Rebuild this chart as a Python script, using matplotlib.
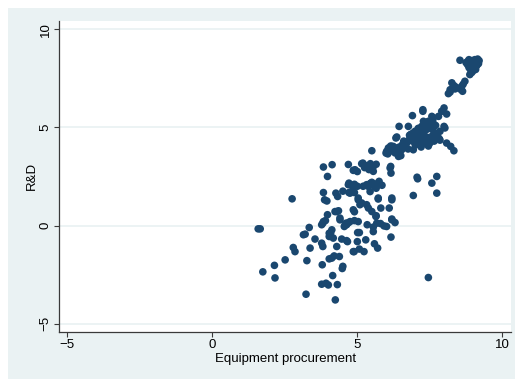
import matplotlib
matplotlib.use("Agg")
import matplotlib.pyplot as plt
from matplotlib.patches import Rectangle

# Equipment procurement (x) vs R&D (y)
top_x = [8.54, 8.75, 8.85, 8.95, 9.05, 9.15, 9.20, 8.80, 8.90, 9.00, 9.10, 8.85, 8.95, 9.05, 9.12,
         8.90, 9.00, 8.95, 8.88, 8.80, 9.18, 9.08]
top_y = [8.42, 8.30, 8.45, 8.40, 8.45, 8.48, 8.40, 8.20, 8.25, 8.20, 8.30, 8.05, 8.10, 8.05, 8.15,
         7.95, 7.90, 7.80, 7.69, 8.35, 8.25, 7.95]

second_x = [8.26, 8.33, 8.71, 8.60, 8.20, 8.14, 8.37, 8.63, 8.30, 8.65, 8.20, 8.40, 8.55]
second_y = [7.27, 7.13, 7.35, 7.09, 6.92, 6.72, 6.96, 6.84, 7.00, 7.20, 6.80, 7.05, 6.95]

band_hi_x = [7.99, 7.91, 8.08, 7.80, 7.26, 7.26, 6.90, 7.62, 7.45, 7.28, 6.76, 6.44, 8.02, 7.50,
             7.16, 6.93, 6.85, 6.33, 6.19, 7.80, 7.85, 8.08, 8.22, 8.33, 7.57, 7.37, 7.22, 7.99,
             7.85, 6.99, 6.36, 6.93, 7.39, 7.83,
             7.00, 7.10, 7.20, 7.30, 7.40, 7.50, 7.10, 7.30, 7.50, 7.60, 7.70, 7.20, 6.80, 6.90,
             7.00, 7.20, 6.70, 6.60, 7.60, 7.70, 7.40, 7.50, 7.30, 7.60, 7.10, 6.80, 7.45, 7.65,
             6.55, 6.45]
band_hi_y = [5.99, 5.82, 5.68, 5.56, 5.82, 5.90, 5.60, 5.48, 5.31, 5.31, 5.05, 5.05, 4.97, 4.97,
             4.88, 4.72, 4.65, 4.46, 4.03, 4.46, 4.35, 4.20, 4.03, 3.81, 5.56, 5.22, 5.05, 5.05,
             4.80, 4.80, 4.51, 4.54, 4.20, 4.41,
             4.60, 4.50, 4.40, 4.60, 4.50, 4.40, 4.30, 4.20, 4.20, 4.60, 4.70, 4.70, 4.40, 4.30,
             4.10, 4.00, 4.20, 4.30, 4.90, 5.10, 4.90, 5.20, 5.00, 5.30, 4.95, 4.60, 4.05, 4.30,
             4.10, 4.00]

mid_x = [5.50, 6.01, 6.05, 6.24, 6.35, 6.59, 6.50, 6.65, 6.50, 6.93, 5.99, 6.07, 6.15, 6.53,
         6.42, 6.20, 6.30, 6.40, 6.75,
         3.83, 3.97, 4.13, 4.69, 4.92, 4.86, 5.00, 5.19, 5.30, 5.45, 5.55, 5.65, 5.44, 5.55,
         5.40, 6.15, 6.16, 6.13, 5.15, 5.25,
         7.08, 7.06, 7.74, 7.57,
         4.71, 4.80, 4.90, 5.00, 5.32, 5.42, 5.50, 5.60, 5.70, 5.75, 5.85, 5.65, 4.69, 4.85,
         5.20, 5.38, 5.45]
mid_y = [3.81, 3.78, 3.65, 4.03, 3.95, 4.20, 3.95, 4.05, 3.56, 3.86, 3.69, 3.95, 4.05, 3.86,
         3.52, 3.80, 3.70, 3.85, 3.90,
         2.98, 2.50, 3.10, 3.11, 2.84, 2.81, 2.75, 3.18, 3.05, 3.15, 3.00, 3.12, 2.93, 2.76,
         2.85, 3.01, 2.67, 2.93, 3.15, 2.95,
         2.38, 2.46, 2.50, 2.16,
         2.16, 2.05, 2.10, 2.00, 2.08, 2.08, 2.20, 2.00, 2.15, 2.25, 2.05, 1.90, 2.08, 1.95,
         2.00, 1.99, 2.15]

low_x = [3.83, 3.87, 3.95, 4.26, 4.32, 4.71, 4.75, 4.90, 5.03, 5.03, 5.09, 5.15, 5.32, 5.38,
         5.50, 5.44, 5.72, 5.72, 6.19, 6.19, 6.10, 5.81, 6.93, 7.74, 2.75, 4.50,
         3.97, 3.83, 3.81, 3.90, 4.23, 4.29, 4.35, 4.40, 4.40, 4.86, 4.90, 4.63, 4.58, 4.61,
         4.55, 4.75, 5.03, 4.90, 5.34, 5.55, 5.64, 5.67, 5.92, 5.80, 6.19, 6.30, 6.19, 6.01,
         5.65, 4.70, 3.77]
low_y = [1.68, 1.31, 1.25, 1.65, 1.48, 1.68, 1.65, 1.68, 1.40, 1.31, 1.06, 1.15, 1.06, 0.89,
         0.71, 1.73, 1.35, 1.40, 1.31, 1.40, 0.89, 0.89, 1.53, 1.65, 1.36, 1.75,
         0.55, 0.20, 0.12, 0.25, 0.71, 0.71, 0.75, 0.38, 0.29, 0.80, 0.70, 0.04, 0.04, 0.12,
         -0.05, 0.20, 0.20, 0.25, 0.04, -0.08, 0.46, 0.12, -0.02, 0.10, 0.33, 0.15, 0.29, -0.05,
         0.50, 0.15, 0.04]

neg_x = [1.58, 1.65, 3.34, 3.14, 3.20, 3.54, 4.03, 4.12, 4.08, 4.03, 4.17, 4.46, 4.63, 4.66,
         5.01, 5.07, 5.00, 5.29, 5.55, 6.16, 5.59, 3.77, 3.81, 2.79, 2.85, 3.37, 4.29,
         5.70, 5.07, 5.23, 4.86, 4.89, 2.51, 2.14, 1.74, 2.16, 3.26, 3.79, 4.38, 4.20, 4.12,
         4.03, 4.48, 4.50, 4.15, 3.77, 3.92, 4.00, 4.31, 3.23, 4.24, 7.45]
neg_y = [-0.17, -0.17, -0.10, -0.47, -0.44, -0.69, -0.39, -0.22, -0.39, -0.56, -0.64, -0.69,
         -0.77, -0.82, -0.36, -0.36, -0.82, -0.73, -0.31, -0.59, -0.93, -0.90, -1.07, -1.12,
         -1.33, -1.15, -1.07,
         -1.15, -1.20, -1.33, -1.33, -1.33, -1.75, -2.03, -2.36, -2.67, -1.79, -2.00, -1.58,
         -1.55, -1.66, -1.70, -2.19, -2.08, -2.55, -2.99, -2.94, -3.03, -3.01, -3.50, -3.79,
         -2.65]

x_ticks = [-5, 0, 5, 10]
y_ticks = [-5, 0, 5, 10]

equip = top_x + second_x + band_hi_x + mid_x + low_x + neg_x
rnd = top_y + second_y + band_hi_y + mid_y + low_y + neg_y

BG = "#eaf2f3"
NAVY = "#1a476f"

plt.rcParams["font.family"] = ["Liberation Sans", "DejaVu Sans"]

fig = plt.figure(figsize=(5.18, 3.79), dpi=100)
fig.patch.set_facecolor("white")
fig.patches.append(Rectangle((8 / 518, 0), 507 / 518, 371 / 379,
                             transform=fig.transFigure, facecolor=BG,
                             edgecolor="none", zorder=-10))

ax = fig.add_axes([59.3 / 518, 47.3 / 379, 451.7 / 518, 310.7 / 379])
ax.set_facecolor("white")
ax.scatter(equip, rnd, s=30, color=NAVY, edgecolors="none", zorder=3)

ax.set_xlim(-5.28, 10.3)
ax.set_ylim(-5.41, 10.42)
ax.set_xticks(x_ticks)
ax.set_yticks(y_ticks)
ax.yaxis.grid(True, color=BG, linewidth=1.3)
ax.set_axisbelow(True)

for side in ["top", "right"]:
    ax.spines[side].set_visible(False)
for side in ["left", "bottom"]:
    ax.spines[side].set_color("#3a3a3a")
    ax.spines[side].set_linewidth(0.9)

ax.tick_params(axis="both", direction="out", length=3.5, width=0.8,
               color="#3a3a3a", labelsize=9.5, pad=2)
for lab in ax.get_yticklabels():
    lab.set_rotation(90)
    lab.set_va("center")

ax.set_xlabel("Equipment procurement", fontsize=9.5, labelpad=1)
ax.set_ylabel("R&D", fontsize=9.5, labelpad=1)

fig.savefig("out.png", dpi=100, facecolor=fig.get_facecolor())
